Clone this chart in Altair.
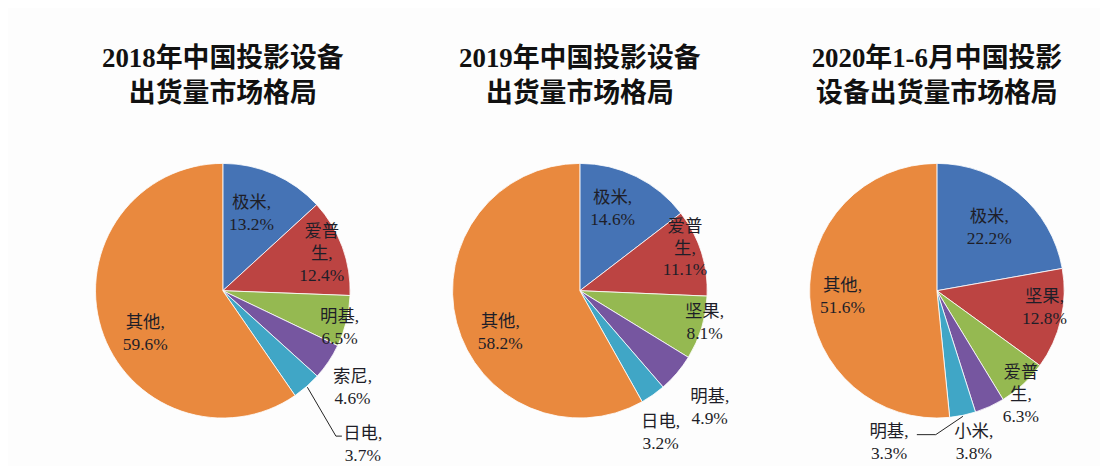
import altair as alt
import pandas as pd

# ---------------- data ----------------
titles = [
    ["2018年中国投影设备", "出货量市场格局"],
    ["2019年中国投影设备", "出货量市场格局"],
    ["2020年1-6月中国投影", "设备出货量市场格局"],
]
brands_2018 = ["极米", "爱普生", "明基", "索尼", "日电", "其他"]
share_2018 = [13.2, 12.4, 6.5, 4.6, 3.7, 59.6]
brands_2019 = ["极米", "爱普生", "坚果", "明基", "日电", "其他"]
share_2019 = [14.6, 11.1, 8.1, 4.9, 3.2, 58.2]
brands_2020 = ["极米", "坚果", "爱普生", "小米", "明基", "其他"]
share_2020 = [22.2, 12.8, 6.3, 3.8, 3.3, 51.6]

# ---------------- style ----------------
slice_colors = ["#4573B5", "#BC4442", "#95B951", "#7656A0", "#40A6C6", "#E9893E"]
name_wrap = {"爱普生": "爱普\n生"}
PANEL_W, PANEL_H, R = 328, 300, 128
CX, CY = PANEL_W / 2, PANEL_H / 2
LINE_H = 22
LABEL_FONT = "Liberation Serif, Noto Sans CJK SC"
TITLE_FONT = "Liberation Serif, Noto Sans CJK SC"
# label placement per slice: radius, dx, dy ; leader: (bend dx, end dx, dy) relative to label
label_r = [
    [84, -5, 0, 106, 0, 0, 123, -2, 8, 163, -5, 7, 209, 3, -2, 89, 7, 17],
    [88, -6, -3, 114, -3, -8, 129, 2, -5, 174, -2, 5, 164, -13, 9, 90, 7, 20],
    [82, 0, 0, 110, 1, -7, 135, -7, 6, 157, -28, 10, 157, -80, -1, 95, 0, 2],
]
leaders = [
    {4: (-27, -21, -9)},
    {},
    {4: (47, 28, -8)},
]


def panel(i, brands, shares):
    st = label_r[i]
    rows = []
    for k, (b, s) in enumerate(zip(brands, shares)):
        lead = leaders[i].get(k)
        label = f"{name_wrap.get(b, b)},\n{s:.1f}%"
        rows.append({
            "brand": b, "share": s, "order": k,
            "label": label,
            "nl": label.count("\n"),
            "lr": st[3 * k], "ldx": st[3 * k + 1], "ldy": st[3 * k + 2],
            "lead": 1 if lead else 0,
            "bdx": lead[0] if lead else 0,
            "edx": lead[1] if lead else 0,
            "bdy": lead[2] if lead else 0,
        })
    df = pd.DataFrame(rows)

    arcs = alt.Chart(df).mark_arc(outerRadius=R, stroke="white", strokeWidth=0.8).encode(
        theta=alt.Theta("share:Q", stack=True),
        color=alt.Color("order:N", scale=alt.Scale(domain=list(range(6)), range=slice_colors), legend=None),
        order=alt.Order("order:Q"),
    )

    base = alt.Chart(df).transform_window(
        cum="sum(share)", sort=[alt.SortField("order")], frame=[None, 0]
    ).transform_joinaggregate(total="sum(share)").transform_calculate(
        mid="(datum.cum - datum.share/2)/datum.total*2*PI"
    ).transform_calculate(
        lx=f"{CX} + datum.lr*sin(datum.mid) + datum.ldx",
        ly=f"{CY} - datum.lr*cos(datum.mid) + datum.ldy",
        sx=f"{CX} + {R + 1}*sin(datum.mid)",
        sy=f"{CY} - {R + 1}*cos(datum.mid)",
    ).transform_calculate(
        ty=f"datum.ly - datum.nl*{LINE_H}/2",
        bx="datum.lx + datum.bdx",
        ex="datum.lx + datum.edx",
        by="datum.ly + datum.bdy",
    )

    text = base.mark_text(
        font=LABEL_FONT, fontSize=17.5, lineBreak="\n", lineHeight=LINE_H,
        color="#1e1e28", align="center", baseline="middle",
    ).encode(
        x=alt.X("lx:Q", scale=None),
        y=alt.Y("ty:Q", scale=None),
        text="label:N",
    )

    lead_a = base.transform_filter("datum.lead == 1").mark_rule(color="#222", strokeWidth=1).encode(
        x=alt.X("sx:Q", scale=None), y=alt.Y("sy:Q", scale=None),
        x2="bx:Q", y2="by:Q",
    )
    lead_b = base.transform_filter("datum.lead == 1").mark_rule(color="#222", strokeWidth=1).encode(
        x=alt.X("bx:Q", scale=None), y=alt.Y("by:Q", scale=None),
        x2="ex:Q", y2="by:Q",
    )

    layers = [arcs, text]
    if leaders[i]:
        layers += [lead_a, lead_b]
    return alt.layer(*layers).properties(
        width=PANEL_W, height=PANEL_H,
        title=alt.TitleParams(
            text=titles[i], font=TITLE_FONT, fontSize=27, fontWeight="bold",
            lineHeight=35, color="#111111", anchor="middle", offset=34,
        ),
    )


chart = alt.hconcat(
    panel(0, brands_2018, share_2018),
    panel(1, brands_2019, share_2019),
    panel(2, brands_2020, share_2020),
    spacing=31,
).properties(
    padding={"left": 52, "top": 36, "right": 0, "bottom": 0},
    background="#fdfdfd",
).configure_view(stroke=None)

chart.save("out.html", embed_options={"renderer": "svg", "actions": False})
